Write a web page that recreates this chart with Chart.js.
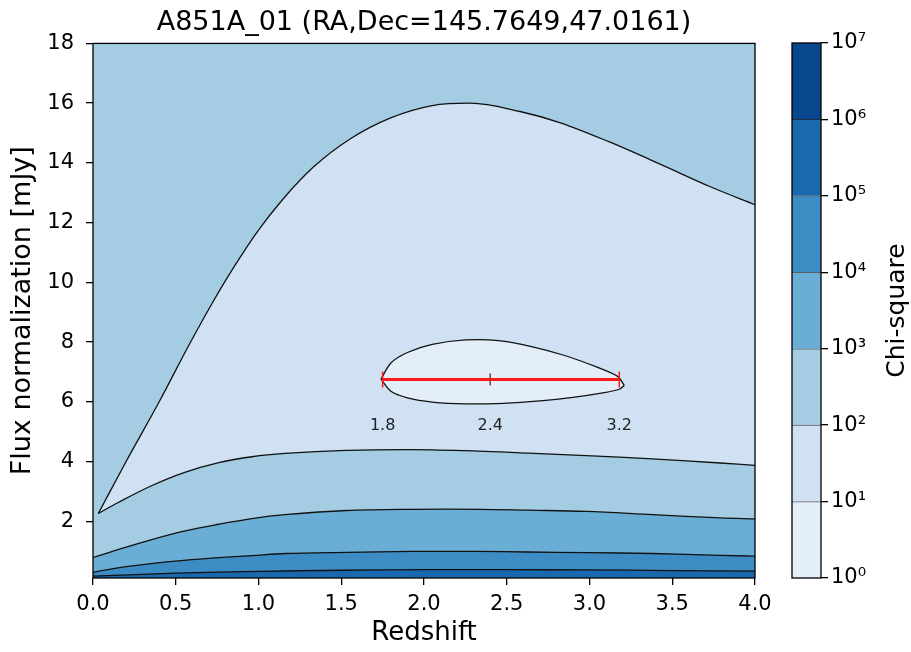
<!DOCTYPE html>
<html>
<head>
<meta charset="utf-8">
<script src="https://cdn.jsdelivr.net/npm/chart.js@4.4.1/dist/chart.umd.min.js"></script>
<style>
  html, body { margin: 0; padding: 0; background: #fff; }
  #wrap { position: relative; width: 911px; height: 652px; }
  #main { position: absolute; left: 0; top: 0; }
  #cbar { position: absolute; left: 780px; top: 0; }
</style>
</head>
<body>
<div id="wrap">
  <canvas id="main" width="780" height="652"></canvas>
  <canvas id="cbar" width="131" height="652"></canvas>
</div>
<script>
// --- data ---
const titleText = 'A851A_01 (RA,Dec=145.7649,47.0161)';
const xTicks = [0, 0.5, 1, 1.5, 2, 2.5, 3, 3.5, 4];
const yTicks = [2, 4, 6, 8, 10, 12, 14, 16, 18];
const chiLevels = [1, 10, 100, 1e3, 1e4, 1e5, 1e6, 1e7];
const levelColors = ['#e4eef9', '#cfe1f2', '#a4cce3', '#6aaed6', '#3d8dc4', '#1a68ae', '#08468e'];

// chi2 = 10 contour (small closed loop), upper and lower arc
const c10UpZ = [1.74, 1.8, 1.9, 2.05, 2.25, 2.45, 2.65, 2.85, 3.05, 3.17, 3.21];
const c10UpF = [6.76, 7.3, 7.65, 7.92, 8.07, 8.05, 7.85, 7.55, 7.15, 6.85, 6.55];
const c10LoZ = [1.74, 1.8, 1.9, 2.05, 2.25, 2.48, 2.7, 2.9, 3.08, 3.18, 3.21];
const c10LoF = [6.76, 6.35, 6.13, 5.99, 5.93, 5.95, 6.03, 6.15, 6.3, 6.42, 6.55];

// chi2 = 100 contour, upper and lower branch
const c100UpZ = [0.032, 0.2, 0.4, 0.58, 0.72, 0.85, 1.0, 1.15, 1.33, 1.553, 1.795, 2.05, 2.28, 2.58, 2.82, 3.12, 3.43, 3.73, 4.0];
const c100UpF = [2.26, 4.0, 6.0, 7.9, 9.3, 10.5, 11.75, 12.8, 13.85, 14.8, 15.5, 15.92, 16.0, 15.72, 15.35, 14.7, 13.95, 13.2, 12.6];
const c100LoZ = [0.032, 0.15, 0.35, 0.55, 0.76, 0.96, 1.16, 1.53, 1.93, 2.33, 2.63, 2.98, 3.38, 3.79, 4.0];
const c100LoF = [2.26, 2.62, 3.18, 3.63, 3.96, 4.16, 4.27, 4.37, 4.4, 4.35, 4.28, 4.2, 4.09, 3.95, 3.87];

// chi2 = 1e3, 1e4, 1e5 contours
const bandZ = [0, 0.15, 0.35, 0.55, 0.76, 0.96, 1.16, 1.53, 1.93, 2.33, 2.63, 2.98, 3.38, 3.79, 4.0];
const c1e3F = [0.78, 1.05, 1.38, 1.67, 1.9, 2.09, 2.22, 2.36, 2.4, 2.4, 2.37, 2.33, 2.22, 2.11, 2.08];
const c1e4F = [0.29, 0.44, 0.58, 0.69, 0.78, 0.85, 0.92, 0.96, 0.99, 0.99, 0.97, 0.95, 0.92, 0.86, 0.83];
const c1e5Z = [0, 0.5, 1, 1.5, 2, 2.5, 3, 3.5, 4];
const c1e5F = [0.16, 0.26, 0.32, 0.36, 0.38, 0.38, 0.37, 0.35, 0.33];

// best fit and range
const errZ = [1.75, 2.4, 3.18];
const errFlux = 6.75;
const errLabels = ['1.8', '2.4', '3.2'];

Chart.defaults.font.family = 'DejaVu Sans';
Chart.defaults.color = '#000';

const pts = (zs, fs) => zs.map((z, i) => ({x: z, y: fs[i]}));
const lineStyle = {showLine: true, pointRadius: 0, borderColor: '#111', borderWidth: 1.3, tension: 0.35};

// frame round the plot area
const frame = {
    id: 'frame',
    afterDatasetsDraw(chart) {
        const {ctx, chartArea: a} = chart;
        ctx.save();
        ctx.strokeStyle = '#000';
        ctx.lineWidth = 1.3;
        ctx.strokeRect(a.left, a.top, a.right - a.left, a.bottom - a.top);
        ctx.restore();
    }
};

// numbers under the error bar
const errText = {
    id: 'errText',
    afterDatasetsDraw(chart) {
        const {ctx, scales: {x, y}} = chart;
        ctx.save();
        ctx.font = '16px "DejaVu Sans"';
        ctx.fillStyle = '#222';
        ctx.textAlign = 'center';
        ctx.textBaseline = 'middle';
        errZ.forEach((z, i) => ctx.fillText(errLabels[i], x.getPixelForValue(z), y.getPixelForValue(errFlux) + 46));
        ctx.restore();
    }
};

new Chart(document.getElementById('main'), {
    type: 'scatter',
    data: {
        datasets: [
            // 0: best-fit marker
            {data: [{x: errZ[1], y: errFlux}], pointStyle: 'line', rotation: 90, pointRadius: 6,
             pointBorderColor: '#9a3030', pointBorderWidth: 1.5, order: 0},
            // 1: redshift range
            {data: [{x: errZ[0], y: errFlux}, {x: errZ[2], y: errFlux}], showLine: true, borderColor: '#ff1a1a',
             borderWidth: 3, pointStyle: 'line', rotation: 90, pointRadius: 8, pointBorderColor: '#ff1a1a',
             pointBorderWidth: 1.5, order: 1},
            // 2-3: chi2 < 10
            {...lineStyle, tension: 0.3, data: pts(c10UpZ, c10UpF), fill: {target: 3}, backgroundColor: levelColors[0], order: 2},
            {...lineStyle, tension: 0.3, data: pts(c10LoZ, c10LoF), fill: false, order: 3},
            // 4-6: bands at the bottom
            {...lineStyle, data: pts(c1e5Z, c1e5F), fill: 'start', backgroundColor: levelColors[5], order: 4},
            {...lineStyle, data: pts(bandZ, c1e4F), fill: 'start', backgroundColor: levelColors[4], order: 5},
            {...lineStyle, data: pts(bandZ, c1e3F), fill: 'start', backgroundColor: levelColors[3], order: 6},
            // 7-8: chi2 < 100
            {...lineStyle, cubicInterpolationMode: 'monotone', data: pts(c100UpZ, c100UpF), fill: {target: 8},
             backgroundColor: levelColors[1], order: 7},
            {...lineStyle, data: pts(c100LoZ, c100LoF), fill: false, order: 8},
            // 9: rest of the plane, 100 - 1000
            {data: [{x: 0, y: 18}, {x: 4, y: 18}], showLine: true, pointRadius: 0, borderWidth: 0,
             fill: 'start', backgroundColor: levelColors[2], order: 9}
        ]
    },
    options: {
        responsive: false,
        animation: false,
        layout: {padding: {left: 0, right: 25, top: 0, bottom: 0}},
        plugins: {
            legend: {display: false},
            tooltip: {enabled: false},
            filler: {drawTime: 'beforeDatasetsDraw'},
            title: {display: true, text: titleText, fullSize: false, font: {size: 27, weight: 'normal'},
                    color: '#000', padding: {top: 7, bottom: 4}}
        },
        scales: {
            x: {
                type: 'linear', min: 0, max: 4,
                afterBuildTicks: s => { s.ticks = xTicks.map(v => ({value: v})); },
                afterFit: s => { s.height = 74; },
                ticks: {callback: v => v.toFixed(1), font: {size: 21}, color: '#000', padding: 7, maxRotation: 0, autoSkip: false},
                grid: {drawOnChartArea: false, drawTicks: true, tickLength: 7, color: '#000', lineWidth: 1.3},
                border: {display: false},
                title: {display: true, text: 'Redshift', font: {size: 26}, color: '#000', padding: {top: 0, bottom: 3}}
            },
            y: {
                type: 'linear', min: 0.1, max: 18,
                afterBuildTicks: s => { s.ticks = yTicks.map(v => ({value: v})); },
                afterFit: s => { s.width = 93; },
                ticks: {callback: v => String(v), font: {size: 21}, color: '#000', padding: 12, autoSkip: false},
                grid: {drawOnChartArea: false, drawTicks: true, tickLength: 7, color: '#000', lineWidth: 1.3},
                border: {display: false},
                title: {display: true, text: 'Flux normalization [mJy]', font: {size: 27}, color: '#000', padding: {top: 7, bottom: 0}}
            }
        }
    },
    plugins: [frame, errText]
});

// --- colour bar ---
const supDigits = ['⁰', '¹', '²', '³', '⁴', '⁵', '⁶', '⁷', '⁸', '⁹'];

const cbarTitle = {
    id: 'cbarTitle',
    afterDraw(chart) {
        const {ctx, chartArea: a} = chart;
        ctx.save();
        ctx.translate(117, (a.top + a.bottom) / 2);
        ctx.rotate(-Math.PI / 2);
        ctx.font = '25px "DejaVu Sans"';
        ctx.fillStyle = '#000';
        ctx.textAlign = 'center';
        ctx.textBaseline = 'middle';
        ctx.fillText('Chi-square', 0, 0);
        ctx.restore();
    }
};

new Chart(document.getElementById('cbar'), {
    type: 'bar',
    data: {
        labels: [''],
        datasets: levelColors.map((c, i) => ({
            data: [[chiLevels[i], chiLevels[i + 1]]],
            backgroundColor: c,
            borderColor: 'rgba(0,0,0,0.6)',
            borderWidth: {top: i < levelColors.length - 1 ? 1 : 0, bottom: 0, left: 0, right: 0},
            borderSkipped: false,
            barPercentage: 1,
            categoryPercentage: 1
        }))
    },
    options: {
        responsive: false,
        animation: false,
        layout: {padding: {left: 12, right: 0, top: 43, bottom: 74}},
        plugins: {legend: {display: false}, tooltip: {enabled: false}},
        scales: {
            x: {display: false, stacked: true},
            y: {
                type: 'logarithmic', position: 'right', min: 1, max: 1e7,
                afterBuildTicks: s => { s.ticks = chiLevels.map(v => ({value: v})); },
                afterFit: s => { s.width = 90; },
                ticks: {callback: v => '10' + supDigits[Math.round(Math.log10(v))], font: {size: 21}, color: '#000', padding: 3},
                grid: {drawOnChartArea: false, drawTicks: true, tickLength: 7, color: '#000', lineWidth: 1.3},
                border: {display: false}
            }
        }
    },
    plugins: [frame, cbarTitle]
});
</script>
</body>
</html>
